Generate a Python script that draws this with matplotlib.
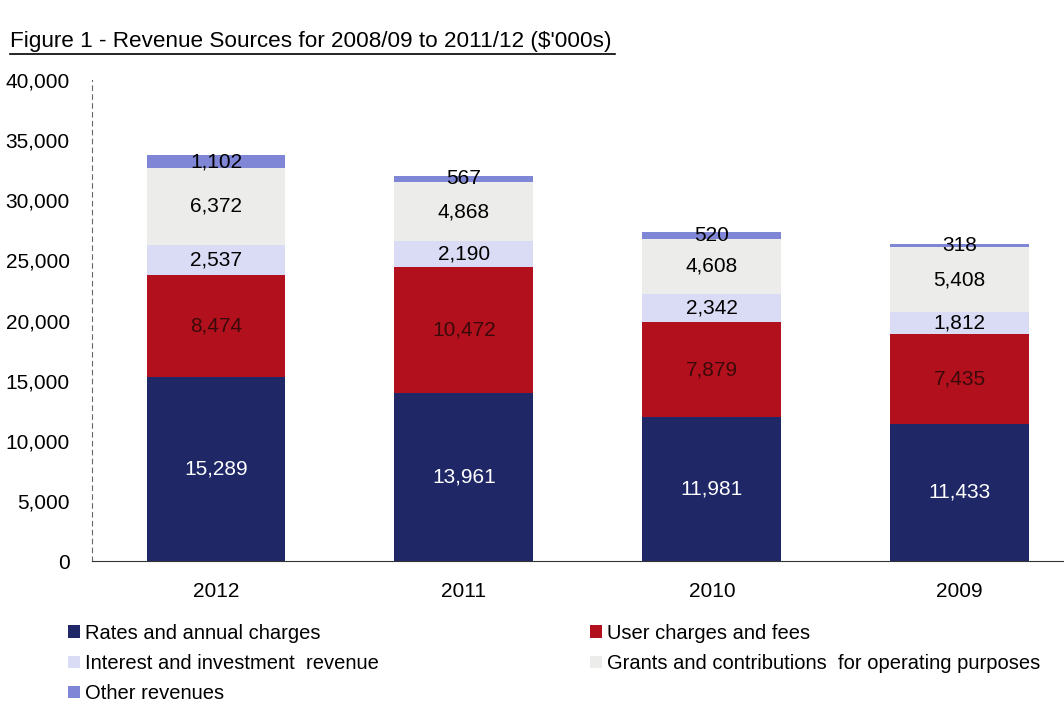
import numpy as np
import matplotlib
matplotlib.use("Agg")
import matplotlib.pyplot as plt
from matplotlib.lines import Line2D

plt.rcParams['font.family'] = ['Liberation Sans', 'DejaVu Sans']

years = ["2012", "2011", "2010", "2009"]
rates = [15289, 13961, 11981, 11433]
user = [8474, 10472, 7879, 7435]
interest = [2537, 2190, 2342, 1812]
grants = [6372, 4868, 4608, 5408]
other = [1102, 567, 520, 318]

names = ["Rates and annual charges", "User charges and fees",
         "Interest and investment  revenue",
         "Grants and contributions  for operating purposes",
         "Other revenues"]
colors = ["#1f2766", "#b3101d", "#d9dcf4", "#ececea", "#7f86d6"]
text_cols = ["white", "#3a0a0a", "black", "black", "black"]

series = [rates, user, interest, grants, other]

fig = plt.figure(figsize=(10.64, 7.12), dpi=100)
ax = fig.add_axes([0.0865, 0.212, 0.932, 0.6756])

x = np.arange(len(years))
bottom = np.zeros(len(years))
bars = []
for i, vals in enumerate(series):
    b = ax.bar(x, vals, 0.56, bottom=bottom, color=colors[i], label=names[i])
    bars.append(b)
    for xi, v, b0 in zip(x, vals, bottom):
        ax.text(xi, b0 + v / 2, f"{v:,}", ha="center", va="center", fontsize=15,
                color=text_cols[i])
    bottom = bottom + np.array(vals)

ax.set_xlim(-0.5, 3.5)
ax.set_ylim(0, 40000)
ax.set_yticks(np.arange(0, 40001, 5000))
ax.set_yticklabels([f"{v:,}" for v in range(0, 40001, 5000)], fontsize=15)
ax.set_xticks(x)
ax.set_xticklabels(years, fontsize=15)
ax.tick_params(axis="y", length=0, pad=16)
ax.tick_params(axis="x", length=0, pad=15)
for s in ["top", "right"]:
    ax.spines[s].set_visible(False)
ax.spines["left"].set_linestyle((0, (4, 4)))
ax.spines["left"].set_color("#666666")
ax.spines["left"].set_linewidth(0.8)
ax.spines["bottom"].set_color("#333333")

fig.text(0.009, 0.927, "Figure 1 - Revenue Sources for 2008/09 to 2011/12 ($'000s)",
         fontsize=16.2, ha="left", va="bottom")
fig.add_artist(Line2D([0.009, 0.578], [0.924, 0.924], color="black", lw=1.2))

order = [0, 2, 4, 1, 3]
leg = fig.legend([bars[i] for i in order], [names[i] for i in order],
                 ncol=2, loc="upper left", bbox_to_anchor=(0.056, 0.135),
                 frameon=False, fontsize=14.5, handlelength=0.6, handleheight=0.6,
                 handletextpad=0.25, labelspacing=0.55, columnspacing=10.5,
                 borderaxespad=0)

fig.savefig("out.png", dpi=100)
